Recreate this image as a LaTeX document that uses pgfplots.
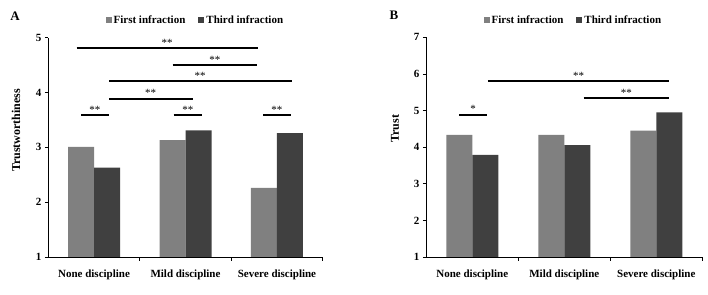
\documentclass[border=0pt]{standalone}
\usepackage{fontspec}
\setmainfont{Liberation Serif}
\usepackage{pgfplots}
\pgfplotsset{compat=1.18}
\definecolor{firstc}{HTML}{808080}
\definecolor{thirdc}{HTML}{404040}
\pgfplotsset{
  sq legend/.style={legend image code/.code={\fill[##1] (0pt,-3pt) rectangle (6pt,3pt);}},
  panel/.style={
    scale only axis, anchor=south west,
    xmin=-0.5, xmax=2.5,
    axis x line=bottom, axis y line=left,
    axis line style={-, line width=0.8pt, black},
    tick style={line width=0.8pt, black},
    tick align=outside, major tick length=3.5pt,
    xtick={0.5,1.5,2.5}, xticklabels={},
    extra x ticks={0,1,2},
    extra x tick labels={None discipline, Mild discipline, Severe discipline},
    extra x tick style={major tick length=0pt, xticklabel style={yshift=-9pt}},
    ticklabel style={font=\bfseries\fontsize{11}{13}\selectfont},
    /pgf/number format/assume math mode=true,
    ybar=0pt, bar width=26pt,
    clip=false,
    legend columns=2,
    legend style={draw=none, fill=none, anchor=center,
      font=\bfseries\fontsize{11}{13}\selectfont,
      /tikz/every even column/.append style={column sep=11pt}},
  },
  sig/.style={black, line width=2pt, mark=none, sharp plot, forget plot},
}
\newcommand{\stars}[3]{\node[anchor=base, yshift=2pt, font=\fontsize{11}{11}\selectfont] at (axis cs:#1,#2) {#3};}
\begin{document}
\begin{tikzpicture}
\path (0,0) rectangle (708pt,294pt);
% Panel A
\begin{axis}[panel, at={(48.3pt,37pt)}, width=274.4pt, height=219.3pt,
  ymin=1, ymax=5, ytick={1,2,3,4,5},
  legend style={at={(0.536,1.079)}}]
\addplot[fill=firstc, draw=none, sq legend] coordinates {(0,3.01) (1,3.13) (2,2.26)};
\addplot[fill=thirdc, draw=none, sq legend] coordinates {(0,2.63) (1,3.31) (2,3.26)};
\legend{First infraction, Third infraction}
\addplot[sig] coordinates {(-0.19,4.81) (1.79,4.81)};
\addplot[sig] coordinates {(0.86,4.50) (1.78,4.50)};
\addplot[sig] coordinates {(0.165,4.21) (2.16,4.21)};
\addplot[sig] coordinates {(0.165,3.89) (1.08,3.89)};
\addplot[sig] coordinates {(-0.14,3.59) (0.16,3.59)};
\addplot[sig] coordinates {(0.87,3.59) (1.18,3.59)};
\addplot[sig] coordinates {(1.85,3.59) (2.15,3.59)};
\stars{0.80}{4.81}{**}
\stars{1.32}{4.50}{**}
\stars{1.16}{4.21}{**}
\stars{0.62}{3.89}{**}
\stars{0.01}{3.59}{**}
\stars{1.025}{3.59}{**}
\stars{2.00}{3.59}{**}
\end{axis}
% Panel B
\begin{axis}[panel, at={(426.3pt,37pt)}, width=276pt, height=219.6pt,
  ymin=1, ymax=7, ytick={1,2,3,4,5,6,7},
  legend style={at={(0.533,1.078)}}]
\addplot[fill=firstc, draw=none, sq legend] coordinates {(0,4.34) (1,4.34) (2,4.45)};
\addplot[fill=thirdc, draw=none, sq legend] coordinates {(0,3.79) (1,4.06) (2,4.95)};
\legend{First infraction, Third infraction}
\addplot[sig] coordinates {(0.17,5.80) (2.14,5.80)};
\addplot[sig] coordinates {(1.21,5.34) (2.14,5.34)};
\addplot[sig] coordinates {(-0.14,4.89) (0.16,4.89)};
\stars{1.155}{5.80}{**}
\stars{1.675}{5.34}{**}
\stars{0.01}{4.89}{*}
\end{axis}
\node[font=\bfseries\fontsize{13}{15}\selectfont] at (15pt,278pt) {A};
\node[font=\bfseries\fontsize{13}{15}\selectfont] at (394pt,278.3pt) {B};
\node[rotate=90, font=\bfseries\fontsize{12}{14}\selectfont] at (16pt,163.7pt) {Trustworthiness};
\node[rotate=90, font=\bfseries\fontsize{12}{14}\selectfont] at (395pt,165.3pt) {Trust};
\end{tikzpicture}
\end{document}
